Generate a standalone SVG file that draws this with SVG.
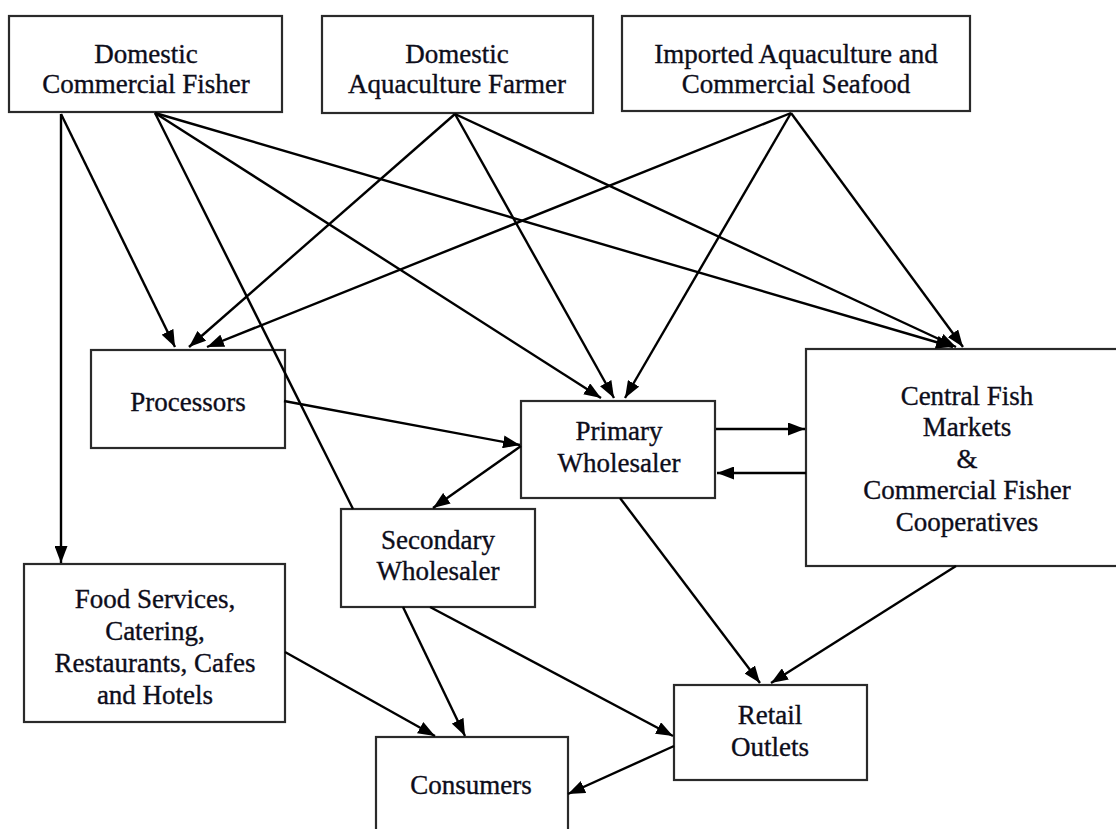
<svg xmlns="http://www.w3.org/2000/svg" width="1116" height="829" viewBox="0 0 1116 829">
<style>
.box{fill:#fff;stroke:#2a2a2a;stroke-width:2.2}
.lbl{font-family:"Liberation Serif","Times New Roman",serif;font-size:27px;fill:#0d0d1a;stroke:#0d0d1a;stroke-width:0.35;text-anchor:middle}
.c{stroke:#000;stroke-width:2.4;fill:none}
.a{marker-end:url(#ah)}
</style>
<defs>
<marker id="ah" markerWidth="17" markerHeight="13" refX="17" refY="6.5" orient="auto" markerUnits="userSpaceOnUse">
<path d="M0,0 L17,6.5 L0,13 z" fill="#000"/>
</marker>
</defs>
<rect width="1116" height="829" fill="#fff"/>
<g id="node-dcf"><rect class="box" x="9" y="16" width="273" height="96"/><text class="lbl" x="146" y="63">Domestic</text><text class="lbl" x="146" y="93">Commercial Fisher</text></g>
<g id="node-daf"><rect class="box" x="322" y="16" width="271" height="97"/><text class="lbl" x="457" y="63">Domestic</text><text class="lbl" x="457" y="93">Aquaculture Farmer</text></g>
<g id="node-imp"><rect class="box" x="622" y="16" width="348" height="95"/><text class="lbl" x="796" y="63">Imported Aquaculture and</text><text class="lbl" x="796" y="93">Commercial Seafood</text></g>
<g id="node-proc"><rect class="box" x="91" y="350" width="194" height="98"/><text class="lbl" x="188" y="411">Processors</text></g>
<g id="node-prim"><rect class="box" x="521" y="401" width="194" height="97"/><text class="lbl" x="619" y="440">Primary</text><text class="lbl" x="619" y="472">Wholesaler</text></g>
<g id="node-cent"><rect class="box" x="806" y="349" width="322" height="217"/><text class="lbl" x="967" y="405">Central Fish</text><text class="lbl" x="967" y="436">Markets</text><text class="lbl" x="967" y="468">&amp;</text><text class="lbl" x="967" y="499">Commercial Fisher</text><text class="lbl" x="967" y="531">Cooperatives</text></g>
<g id="node-sec"><rect class="box" x="341" y="509" width="194" height="98"/><text class="lbl" x="438" y="549">Secondary</text><text class="lbl" x="438" y="580">Wholesaler</text></g>
<g id="node-food"><rect class="box" x="24" y="564" width="261" height="158"/><text class="lbl" x="155" y="608">Food Services,</text><text class="lbl" x="155" y="640">Catering,</text><text class="lbl" x="155" y="672">Restaurants, Cafes</text><text class="lbl" x="155" y="704">and Hotels</text></g>
<g id="node-ret"><rect class="box" x="674" y="685" width="193" height="95"/><text class="lbl" x="770" y="724">Retail</text><text class="lbl" x="770" y="756">Outlets</text></g>
<g id="node-cons"><rect class="box" x="376" y="737" width="192" height="110"/><text class="lbl" x="471" y="794">Consumers</text></g>
<g id="connectors">
<line class="c a" x1="61" y1="114" x2="61" y2="563"/>
<line class="c a" x1="61" y1="114" x2="175" y2="347"/>
<line class="c" x1="155" y1="113" x2="353" y2="509"/>
<line class="c a" x1="155" y1="113" x2="601" y2="398"/>
<line class="c a" x1="155" y1="113" x2="953" y2="347"/>
<line class="c a" x1="455" y1="114" x2="189" y2="347"/>
<line class="c a" x1="455" y1="114" x2="614" y2="398"/>
<line class="c a" x1="455" y1="114" x2="956" y2="347"/>
<line class="c a" x1="791" y1="113" x2="207" y2="347"/>
<line class="c a" x1="791" y1="113" x2="625" y2="398"/>
<line class="c a" x1="791" y1="113" x2="963" y2="347"/>
<line class="c a" x1="284" y1="401" x2="520" y2="445"/>
<line class="c a" x1="521" y1="446" x2="433" y2="508"/>
<line class="c a" x1="716" y1="429" x2="805" y2="429"/>
<line class="c a" x1="806" y1="473" x2="717" y2="473"/>
<line class="c a" x1="620" y1="498" x2="760" y2="683"/>
<line class="c a" x1="956" y1="566" x2="771" y2="683"/>
<line class="c a" x1="285" y1="652" x2="435" y2="736"/>
<line class="c a" x1="403" y1="607" x2="465" y2="736"/>
<line class="c a" x1="430" y1="607" x2="673" y2="736"/>
<line class="c a" x1="674" y1="746" x2="568" y2="794"/>
</g>
</svg>
